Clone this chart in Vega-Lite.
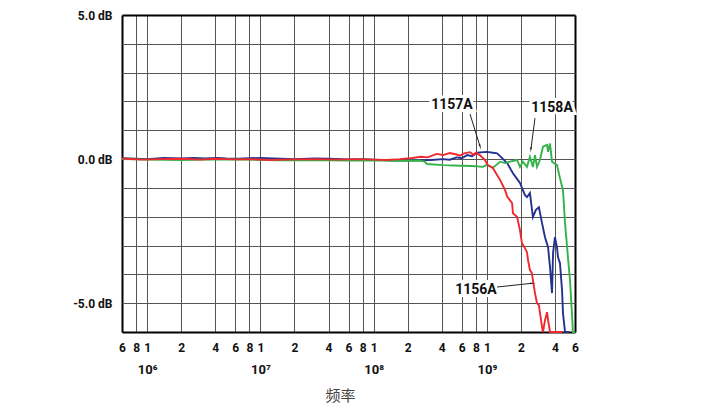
{
  "$schema": "https://vega.github.io/schema/vega-lite/v6.json",
  "width": 453,
  "height": 317,
  "autosize": {"type": "none"},
  "padding": {"left": 122, "top": 15, "right": 145, "bottom": 75},
  "background": "white",
  "config": {
    "view": {"stroke": null},
    "font": "Roboto"
  },
  "datasets": {
    "curves": [
      {"model": "1157A", "freq": 6e5, "db": 0.03},
      {"model": "1157A", "freq": 7e5, "db": 0.02},
      {"model": "1157A", "freq": 1e6, "db": 0.0},
      {"model": "1157A", "freq": 1.4e6, "db": 0.04},
      {"model": "1157A", "freq": 2e6, "db": 0.02},
      {"model": "1157A", "freq": 2.6e6, "db": 0.04},
      {"model": "1157A", "freq": 3.2e6, "db": 0.02},
      {"model": "1157A", "freq": 4.2e6, "db": 0.04},
      {"model": "1157A", "freq": 5e6, "db": 0.02},
      {"model": "1157A", "freq": 6.5e6, "db": 0.01},
      {"model": "1157A", "freq": 8e6, "db": 0.03},
      {"model": "1157A", "freq": 1e7, "db": 0.04},
      {"model": "1157A", "freq": 1.3e7, "db": 0.02},
      {"model": "1157A", "freq": 2e7, "db": 0.0},
      {"model": "1157A", "freq": 3e7, "db": 0.02},
      {"model": "1157A", "freq": 4e7, "db": 0.01},
      {"model": "1157A", "freq": 6e7, "db": -0.01},
      {"model": "1157A", "freq": 8e7, "db": 0.0},
      {"model": "1157A", "freq": 1e8, "db": -0.02},
      {"model": "1157A", "freq": 1.3e8, "db": -0.04},
      {"model": "1157A", "freq": 1.8e8, "db": -0.05},
      {"model": "1157A", "freq": 2.5e8, "db": -0.04},
      {"model": "1157A", "freq": 3.2e8, "db": -0.03},
      {"model": "1157A", "freq": 4.1e8, "db": 0.0},
      {"model": "1157A", "freq": 4.7e8, "db": -0.02},
      {"model": "1157A", "freq": 5.4e8, "db": 0.06},
      {"model": "1157A", "freq": 6.0e8, "db": 0.03},
      {"model": "1157A", "freq": 6.7e8, "db": 0.14},
      {"model": "1157A", "freq": 7.4e8, "db": 0.1},
      {"model": "1157A", "freq": 8.2e8, "db": 0.22},
      {"model": "1157A", "freq": 9.25e8, "db": 0.24},
      {"model": "1157A", "freq": 1.0e9, "db": 0.25},
      {"model": "1157A", "freq": 1.13e9, "db": 0.22},
      {"model": "1157A", "freq": 1.23e9, "db": 0.2},
      {"model": "1157A", "freq": 1.35e9, "db": 0.05},
      {"model": "1157A", "freq": 1.51e9, "db": -0.14},
      {"model": "1157A", "freq": 1.70e9, "db": -0.49},
      {"model": "1157A", "freq": 1.88e9, "db": -0.73},
      {"model": "1157A", "freq": 1.96e9, "db": -0.83},
      {"model": "1157A", "freq": 2.08e9, "db": -1.08},
      {"model": "1157A", "freq": 2.17e9, "db": -1.25},
      {"model": "1157A", "freq": 2.26e9, "db": -1.32},
      {"model": "1157A", "freq": 2.40e9, "db": -1.18},
      {"model": "1157A", "freq": 2.55e9, "db": -2.01},
      {"model": "1157A", "freq": 2.71e9, "db": -1.76},
      {"model": "1157A", "freq": 2.88e9, "db": -1.67},
      {"model": "1157A", "freq": 3.07e9, "db": -2.22},
      {"model": "1157A", "freq": 3.26e9, "db": -2.71},
      {"model": "1157A", "freq": 3.47e9, "db": -3.06},
      {"model": "1157A", "freq": 3.61e9, "db": -3.75},
      {"model": "1157A", "freq": 3.76e9, "db": -4.65},
      {"model": "1157A", "freq": 3.84e9, "db": -3.26},
      {"model": "1157A", "freq": 3.99e9, "db": -2.71},
      {"model": "1157A", "freq": 4.16e9, "db": -3.06},
      {"model": "1157A", "freq": 4.25e9, "db": -3.41},
      {"model": "1157A", "freq": 4.42e9, "db": -3.61},
      {"model": "1157A", "freq": 4.61e9, "db": -4.55},
      {"model": "1157A", "freq": 4.70e9, "db": -5.35},
      {"model": "1157A", "freq": 4.90e9, "db": -6.0},
      {"model": "1157A", "freq": 5.3e9, "db": -6.0},

      {"model": "1158A", "freq": 6e5, "db": 0.0},
      {"model": "1158A", "freq": 1e6, "db": -0.02},
      {"model": "1158A", "freq": 2e6, "db": -0.03},
      {"model": "1158A", "freq": 4e6, "db": -0.01},
      {"model": "1158A", "freq": 8e6, "db": -0.02},
      {"model": "1158A", "freq": 1.5e7, "db": -0.04},
      {"model": "1158A", "freq": 3e7, "db": -0.03},
      {"model": "1158A", "freq": 6e7, "db": -0.05},
      {"model": "1158A", "freq": 1e8, "db": -0.04},
      {"model": "1158A", "freq": 1.5e8, "db": -0.06},
      {"model": "1158A", "freq": 2.5e8, "db": -0.05},
      {"model": "1158A", "freq": 2.8e8, "db": -0.08},
      {"model": "1158A", "freq": 2.96e8, "db": -0.17},
      {"model": "1158A", "freq": 4.1e8, "db": -0.21},
      {"model": "1158A", "freq": 5.8e8, "db": -0.23},
      {"model": "1158A", "freq": 7.5e8, "db": -0.24},
      {"model": "1158A", "freq": 9.25e8, "db": -0.27},
      {"model": "1158A", "freq": 1.0e9, "db": -0.2},
      {"model": "1158A", "freq": 1.13e9, "db": -0.3},
      {"model": "1158A", "freq": 1.31e9, "db": -0.09},
      {"model": "1158A", "freq": 1.45e9, "db": -0.14},
      {"model": "1158A", "freq": 1.6e9, "db": -0.09},
      {"model": "1158A", "freq": 1.85e9, "db": -0.03},
      {"model": "1158A", "freq": 1.96e9, "db": -0.27},
      {"model": "1158A", "freq": 2.08e9, "db": -0.09},
      {"model": "1158A", "freq": 2.26e9, "db": -0.27},
      {"model": "1158A", "freq": 2.40e9, "db": 0.08},
      {"model": "1158A", "freq": 2.55e9, "db": -0.27},
      {"model": "1158A", "freq": 2.66e9, "db": 0.14},
      {"model": "1158A", "freq": 2.77e9, "db": -0.27},
      {"model": "1158A", "freq": 2.94e9, "db": -0.03},
      {"model": "1158A", "freq": 3.13e9, "db": 0.43},
      {"model": "1158A", "freq": 3.40e9, "db": 0.49},
      {"model": "1158A", "freq": 3.47e9, "db": 0.25},
      {"model": "1158A", "freq": 3.61e9, "db": 0.54},
      {"model": "1158A", "freq": 3.76e9, "db": -0.09},
      {"model": "1158A", "freq": 4.16e9, "db": -0.21},
      {"model": "1158A", "freq": 4.42e9, "db": -0.66},
      {"model": "1158A", "freq": 4.70e9, "db": -1.08},
      {"model": "1158A", "freq": 4.90e9, "db": -2.22},
      {"model": "1158A", "freq": 5.20e9, "db": -3.41},
      {"model": "1158A", "freq": 5.42e9, "db": -4.2},
      {"model": "1158A", "freq": 5.64e9, "db": -5.35},
      {"model": "1158A", "freq": 5.75e9, "db": -6.0},
      {"model": "1158A", "freq": 6.0e9, "db": -6.0},

      {"model": "1156A", "freq": 6e5, "db": 0.02},
      {"model": "1156A", "freq": 9e5, "db": -0.02},
      {"model": "1156A", "freq": 1.3e6, "db": 0.0},
      {"model": "1156A", "freq": 2e6, "db": 0.01},
      {"model": "1156A", "freq": 3e6, "db": -0.02},
      {"model": "1156A", "freq": 4e6, "db": 0.01},
      {"model": "1156A", "freq": 6e6, "db": -0.01},
      {"model": "1156A", "freq": 8e6, "db": 0.0},
      {"model": "1156A", "freq": 1.2e7, "db": -0.03},
      {"model": "1156A", "freq": 2e7, "db": -0.01},
      {"model": "1156A", "freq": 3e7, "db": 0.0},
      {"model": "1156A", "freq": 5e7, "db": -0.02},
      {"model": "1156A", "freq": 7e7, "db": 0.0},
      {"model": "1156A", "freq": 1e8, "db": -0.02},
      {"model": "1156A", "freq": 1.3e8, "db": -0.03},
      {"model": "1156A", "freq": 1.7e8, "db": 0.0},
      {"model": "1156A", "freq": 2.2e8, "db": 0.04},
      {"model": "1156A", "freq": 2.6e8, "db": 0.08},
      {"model": "1156A", "freq": 3.0e8, "db": 0.06},
      {"model": "1156A", "freq": 3.6e8, "db": 0.18},
      {"model": "1156A", "freq": 4.1e8, "db": 0.14},
      {"model": "1156A", "freq": 4.7e8, "db": 0.21},
      {"model": "1156A", "freq": 5.4e8, "db": 0.16},
      {"model": "1156A", "freq": 5.8e8, "db": 0.12},
      {"model": "1156A", "freq": 6.3e8, "db": 0.2},
      {"model": "1156A", "freq": 7.1e8, "db": 0.24},
      {"model": "1156A", "freq": 7.6e8, "db": 0.15},
      {"model": "1156A", "freq": 8.0e8, "db": 0.22},
      {"model": "1156A", "freq": 8.7e8, "db": 0.13},
      {"model": "1156A", "freq": 9.6e8, "db": -0.03},
      {"model": "1156A", "freq": 1.02e9, "db": -0.21},
      {"model": "1156A", "freq": 1.13e9, "db": -0.31},
      {"model": "1156A", "freq": 1.23e9, "db": -0.55},
      {"model": "1156A", "freq": 1.31e9, "db": -0.73},
      {"model": "1156A", "freq": 1.45e9, "db": -1.08},
      {"model": "1156A", "freq": 1.51e9, "db": -1.3},
      {"model": "1156A", "freq": 1.67e9, "db": -1.53},
      {"model": "1156A", "freq": 1.70e9, "db": -1.88},
      {"model": "1156A", "freq": 1.85e9, "db": -2.01},
      {"model": "1156A", "freq": 1.96e9, "db": -2.47},
      {"model": "1156A", "freq": 2.04e9, "db": -2.92},
      {"model": "1156A", "freq": 2.17e9, "db": -3.09},
      {"model": "1156A", "freq": 2.26e9, "db": -3.23},
      {"model": "1156A", "freq": 2.31e9, "db": -3.51},
      {"model": "1156A", "freq": 2.40e9, "db": -3.85},
      {"model": "1156A", "freq": 2.50e9, "db": -3.96},
      {"model": "1156A", "freq": 2.55e9, "db": -4.2},
      {"model": "1156A", "freq": 2.66e9, "db": -4.65},
      {"model": "1156A", "freq": 2.77e9, "db": -5.0},
      {"model": "1156A", "freq": 2.88e9, "db": -5.07},
      {"model": "1156A", "freq": 3.07e9, "db": -5.83},
      {"model": "1156A", "freq": 3.13e9, "db": -6.0},
      {"model": "1156A", "freq": 3.26e9, "db": -5.59},
      {"model": "1156A", "freq": 3.40e9, "db": -5.31},
      {"model": "1156A", "freq": 3.47e9, "db": -5.59},
      {"model": "1156A", "freq": 3.61e9, "db": -6.0},
      {"model": "1156A", "freq": 4.65e9, "db": -6.0}
    ],
    "labels": [
      {"label": "1157A", "freq": 4.92e8, "db": 1.87},
      {"label": "1158A", "freq": 3.76e9, "db": 1.77},
      {"label": "1156A", "freq": 8.0e8, "db": -4.55}
    ],
    "arrows": [
      {"label": "1157A", "f1": 7.1e8, "d1": 1.56, "f2": 8.69e8, "d2": 0.45},
      {"label": "1158A", "f1": 2.66e9, "d1": 1.42, "f2": 2.45e9, "d2": 0.35},
      {"label": "1156A", "f1": 1.23e9, "d1": -4.44, "f2": 2.5e9, "d2": -4.31}
    ]
  },
  "resolve": {"axis": {"x": "independent", "y": "independent"}},
  "layer": [
    {
      "data": {"name": "curves"},
      "mark": {"type": "line", "strokeWidth": 1.9, "clip": false},
      "encoding": {
        "x": {
          "field": "freq",
          "type": "quantitative",
          "scale": {"type": "log", "domain": [6e5, 6e9], "nice": false},
          "axis": {
            "orient": "bottom",
            "title": null,
            "values": [6e5, 8e5, 1e6, 2e6, 4e6, 6e6, 8e6, 1e7, 2e7, 4e7, 6e7, 8e7, 1e8, 2e8, 4e8, 6e8, 8e8, 1e9, 2e9, 4e9, 6e9],
            "labelExpr": "round(datum.value / pow(10, floor(log(datum.value) / LN10 + 0.000001)))",
            "grid": true,
            "gridColor": {"condition": {"test": "datum.value < 7e5 || datum.value > 5.5e9", "value": "#000"}, "value": "#555"},
            "gridWidth": {"condition": {"test": "datum.value < 7e5 || datum.value > 5.5e9", "value": 2}, "value": 1},
            "ticks": false,
            "domain": false,
            "labelFlush": false,
            "labelOverlap": false,
            "labelPadding": 10,
            "labelFontSize": 12,
            "labelFontWeight": "bold",
            "labelColor": "#111"
          }
        },
        "y": {
          "field": "db",
          "type": "quantitative",
          "scale": {"domain": [-6, 5], "nice": false, "zero": false},
          "axis": {
            "orient": "left",
            "title": null,
            "values": [-6, -5, -4, -3, -2, -1, 0, 1, 2, 3, 4, 5],
            "labelExpr": "datum.value % 5 == 0 ? (datum.value < 0 ? '-' : '') + format(abs(datum.value), '.1f') + ' dB' : ''",
            "grid": true,
            "gridColor": {"condition": {"test": "datum.value < -5.5 || datum.value > 4.5", "value": "#000"}, "value": "#555"},
            "gridWidth": {"condition": {"test": "datum.value < -5.5 || datum.value > 4.5", "value": 2}, "value": 1},
            "ticks": false,
            "domain": false,
            "labelPadding": 10,
            "labelFontSize": 12,
            "labelFontWeight": "bold",
            "labelColor": "#111",
            "labelOverlap": false,
            "labelFlush": false
          }
        },
        "color": {
          "field": "model",
          "type": "nominal",
          "scale": {"domain": ["1156A", "1157A", "1158A"], "range": ["#ee2a2f", "#23328f", "#35b24a"]},
          "legend": null
        }
      }
    },
    {
      "data": {"name": "labels"},
      "mark": {"type": "text", "fontSize": 14, "fontWeight": "bold", "stroke": "white", "strokeWidth": 6, "fill": "white", "baseline": "middle"},
      "encoding": {
        "x": {
          "field": "freq",
          "type": "quantitative",
          "axis": {
            "orient": "bottom",
            "values": [1e6, 1e7, 1e8, 1e9],
            "labelExpr": "'10' + (datum.value < 5e6 ? '⁶' : datum.value < 5e7 ? '⁷' : datum.value < 5e8 ? '⁸' : '⁹')",
            "grid": false,
            "ticks": false,
            "domain": false,
            "labelPadding": 31,
            "labelFontSize": 13,
            "labelFontWeight": "bold",
            "labelColor": "#111",
            "labelFlush": false,
            "title": "频率",
            "titleFont": "Noto Sans CJK SC",
            "titleFontWeight": "normal",
            "titleFontSize": 15,
            "titleColor": "#444",
            "titlePadding": 12,
            "titleX": 218
          }
        },
        "y": {"field": "db", "type": "quantitative", "axis": null},
        "text": {"field": "label"}
      }
    },
    {
      "data": {"name": "labels"},
      "mark": {"type": "text", "fontSize": 14, "fontWeight": "bold", "fill": "#111", "baseline": "middle"},
      "encoding": {
        "x": {"field": "freq", "type": "quantitative", "axis": null},
        "y": {"field": "db", "type": "quantitative", "axis": null},
        "text": {"field": "label"}
      }
    },
    {
      "data": {"name": "arrows"},
      "mark": {"type": "rule", "color": "#222", "strokeWidth": 1},
      "encoding": {
        "x": {"field": "f1", "type": "quantitative", "axis": null},
        "x2": {"field": "f2"},
        "y": {"field": "d1", "type": "quantitative", "axis": null},
        "y2": {"field": "d2"}
      }
    },
    {
      "data": {"name": "arrows"},
      "mark": {
        "type": "point",
        "shape": "wedge",
        "filled": true,
        "color": "#222",
        "opacity": 1,
        "size": 45,
        "angle": {"expr": "atan2(scale('x', datum.f2) - scale('x', datum.f1), scale('y', datum.d1) - scale('y', datum.d2)) * 180 / PI"}
      },
      "encoding": {
        "x": {"field": "f2", "type": "quantitative", "axis": null},
        "y": {"field": "d2", "type": "quantitative", "axis": null}
      }
    }
  ]
}
